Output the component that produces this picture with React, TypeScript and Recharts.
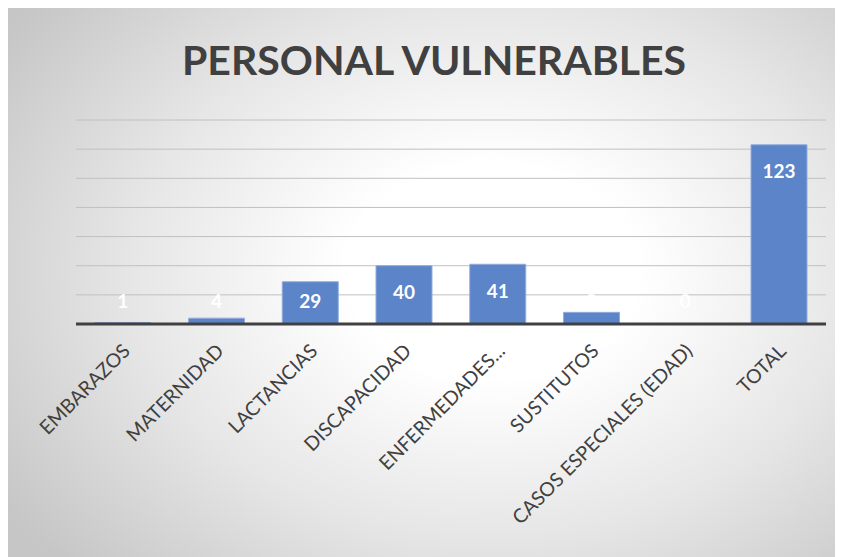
import { BarChart, Bar, XAxis, YAxis, CartesianGrid } from 'recharts';

const categories = [
    "EMBARAZOS",
    "MATERNIDAD",
    "LACTANCIAS",
    "DISCAPACIDAD",
    "ENFERMEDADES...",
    "SUSTITUTOS",
    "CASOS ESPECIALES (EDAD)",
    "TOTAL",
];
const values = [1, 4, 29, 40, 41, 8, 0, 123];
const yTicks = [0, 20, 40, 60, 80, 100, 120, 140];

const data = categories.map((name, i) => ({ name, value: values[i] }));

const FONT = "Lato, 'Noto Sans', sans-serif";

function AngledTick(props: any) {
    const { x, y, payload } = props;
    return (
        <g transform={`translate(${x + 3},${y + 15})`}>
            <text
                transform="rotate(-45)"
                textAnchor="end"
                dominantBaseline="central"
                fill="#404040"
                fontSize={19.5}
                fontFamily={FONT}
            >
                {payload.value}
            </text>
        </g>
    );
}

function ValueLabel(props: any) {
    const { x, y, width, height, value } = props;
    const base = y + height;
    const cy = Math.min(y + 26, base - 24);
    return (
        <text
            x={x + width / 2}
            y={cy}
            textAnchor="middle"
            dominantBaseline="central"
            fill="#ffffff"
            fontSize={19}
            fontWeight="bold"
            fontFamily={FONT}
        >
            {value}
        </text>
    );
}

export default function App() {
    return (
        <div
            style={{
                position: "relative",
                width: 835,
                height: 549,
                background:
                    "radial-gradient(ellipse 70% 78% at 58% 48%, #ffffff 25%, #e6e6e6 62%, #c6c6c6 100%)",
            }}
        >
            <div
                style={{
                    position: "absolute",
                    top: 27,
                    left: 0,
                    width: 852,
                    textAlign: "center",
                    fontFamily: FONT,
                    fontWeight: "bold",
                    fontSize: 41,
                    color: "#404040",
                }}
            >
                PERSONAL VULNERABLES
            </div>
            <BarChart
                width={835}
                height={549}
                data={data}
                margin={{ top: 112, right: 17, left: 68, bottom: 33 }}
                barCategoryGap="20%"
            >
                <CartesianGrid vertical={false} stroke="#c0c0c0" strokeWidth={1} />
                <YAxis hide domain={[0, 140]} ticks={yTicks} />
                <XAxis
                    dataKey="name"
                    interval={0}
                    height={200}
                    tickLine={false}
                    axisLine={{ stroke: "#404040", strokeWidth: 3 }}
                    tick={<AngledTick />}
                />
                <Bar
                    dataKey="value"
                    fill="#5b84c9"
                    stroke="#93acdc"
                    strokeWidth={1}
                    minPointSize={0.5}
                    isAnimationActive={false}
                    label={<ValueLabel />}
                />
            </BarChart>
        </div>
    );
}
